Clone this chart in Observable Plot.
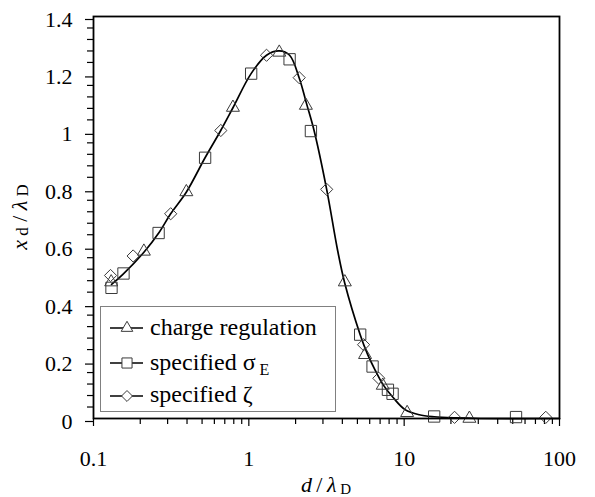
<!DOCTYPE html>
<html><head><meta charset="utf-8">
<script src="https://cdn.jsdelivr.net/npm/d3@7"></script>
<script src="https://cdn.jsdelivr.net/npm/@observablehq/plot@0.6"></script>
<style>body{margin:0;background:#fff}</style>
</head><body><div id="chart"></div>
<script>
// ---- data ----
const seriesNames = ["charge regulation", "specified σ", "specified ζ"];
// markers
const triX = [0.13, 0.211, 0.396, 0.79, 1.57, 2.33, 4.15, 5.6, 7.28, 10.45, 26.3];
const triY = [0.475, 0.582, 0.789, 1.083, 1.275, 1.09, 0.475, 0.222, 0.115, 0.02, 0.0];
const sqX = [0.1306, 0.156, 0.2625, 0.523, 1.035, 1.83, 2.51, 5.21, 6.26, 7.86, 8.42, 15.6, 52.5];
const sqY = [0.455, 0.505, 0.646, 0.908, 1.201, 1.251, 1.001, 0.292, 0.181, 0.100, 0.086, 0.007, 0.005];
const diX = [0.1287, 0.18, 0.314, 0.66, 1.30, 2.11, 3.17, 5.48, 6.87, 21.1, 81.6];
const diY = [0.498, 0.566, 0.713, 1.003, 1.265, 1.187, 0.798, 0.257, 0.140, 0.004, 0.004];
// solid curve
const curveX = [0.1307, 0.1546, 0.2111, 0.2636, 0.3139, 0.3965, 0.5226, 0.6595, 0.7918, 1.034, 1.30, 1.57,
                1.83, 2.11, 2.36, 2.63, 3.17, 3.73, 4.15, 5.21, 5.79, 6.43, 7.31, 8.49, 10.13, 12.5, 15.6, 21.5, 31, 100];
const curveY = [0.467, 0.502, 0.579, 0.647, 0.713, 0.789, 0.908, 1.003, 1.083, 1.201, 1.265, 1.280,
                1.265, 1.186, 1.094, 1.003, 0.798, 0.585, 0.470, 0.292, 0.226, 0.174, 0.118, 0.073, 0.031, 0.013, 0.006, 0.002, 0, 0];
// axes
const xMajor = [0.1, 1, 10, 100];
const xMinor = [0.2,0.3,0.4,0.5,0.6,0.7,0.8,0.9, 2,3,4,5,6,7,8,9, 20,30,40,50,60,70,80,90];
const yMajor = [0, 0.2, 0.4, 0.6, 0.8, 1, 1.2, 1.4];
const yMinor = [0.04,0.08,0.12,0.16,0.24,0.28,0.32,0.36,0.44,0.48,0.52,0.56,0.64,0.68,0.72,0.76,
                0.84,0.88,0.92,0.96,1.04,1.08,1.12,1.16,1.24,1.28,1.32,1.36];

// ---- layout ----
const W = 595, H = 497, ML = 93, MR = 36, MT = 16, MB = 79;
const FONT = "'Liberation Serif','Times New Roman',Times,serif";
const rows = (xs, ys) => xs.map((x, i) => ({x, y: ys[i]}));
const tri = rows(triX, triY), sq = rows(sqX, sqY), di = rows(diX, diY), curve = rows(curveX, curveY);
const R = {triangle2: 6.2, square2: 7.2, diamond2: 5.5};
const dotOpt = s => ({x: "x", y: "y", symbol: s, r: R[s], stroke: "#3a3a3a", fill: "none", strokeWidth: 1});

const plot = Plot.plot({
  width: W, height: H,
  marginLeft: ML, marginRight: MR, marginTop: MT, marginBottom: MB,
  style: {fontFamily: FONT, fontSize: "22px", color: "#000", background: "#fff", overflow: "visible"},
  x: {type: "log", domain: [0.1, 100]},
  y: {domain: [0, 1.4]},
  marks: [
    Plot.axisY(yMinor, {tickSize: 6, tickFormat: () => "", label: null, strokeWidth: 1.2}),
    Plot.axisY(yMajor, {tickSize: 8, tickPadding: 13, tickFormat: d => String(d), dy: 3, label: null, strokeWidth: 1.2, fontFamily: FONT}),
    Plot.axisX(xMinor, {tickSize: 6, tickFormat: () => "", label: null, strokeWidth: 1.2}),
    Plot.axisX(xMajor, {tickSize: 8, tickPadding: 24, tickFormat: d => String(d), label: null, strokeWidth: 1.2, fontFamily: FONT}),
    Plot.line(curve, {x: "x", y: "y", curve: "catmull-rom", stroke: "#000", strokeWidth: 1.7}),
    Plot.dot(tri, dotOpt("triangle2")),
    Plot.dot(sq, dotOpt("square2")),
    Plot.dot(di, dotOpt("diamond2")),
    Plot.frame({stroke: "#000", strokeWidth: 1.8})
  ]
});
document.getElementById("chart").appendChild(plot);

// ---- axis titles with italics and subscripts ----
const svg = d3.select(plot);
const cx = (ML + W - MR) / 2, cy = (MT + H - MB) / 2;
const xl = svg.append("text").attr("x", cx).attr("y", 492).attr("text-anchor", "middle")
  .attr("font-family", FONT).attr("font-size", 22).attr("fill", "#000");
xl.append("tspan").attr("font-style", "italic").text("d");
xl.append("tspan").text("\u2009/\u2009");
xl.append("tspan").attr("font-style", "italic").text("λ");
xl.append("tspan").attr("font-size", 15).attr("dy", 2).text(" D");

const yl = svg.append("text").attr("transform", `translate(27,${cy}) rotate(-90)`).attr("text-anchor", "middle")
  .attr("font-family", FONT).attr("font-size", 22).attr("fill", "#000");
yl.append("tspan").attr("font-style", "italic").text("x");
yl.append("tspan").attr("font-size", 17).attr("dy", 1).text(" d");
yl.append("tspan").attr("dy", -1).text(" / ");
yl.append("tspan").attr("font-style", "italic").text("λ");
yl.append("tspan").attr("font-size", 17).attr("dy", 1).text(" D");

// ---- legend ----
const lg = svg.append("g").attr("font-family", FONT).attr("font-size", 24).attr("fill", "#000")
  .attr("text-anchor", "start");
lg.append("rect").attr("x", 100.5).attr("y", 306.5).attr("width", 235).attr("height", 105)
  .attr("fill", "#fff").attr("stroke", "#808080").attr("stroke-width", 1);
const syms = [["triangle2", d3.symbolTriangle2], ["square2", d3.symbolSquare2], ["diamond2", d3.symbolDiamond2]];
const symY = [328, 363, 396], baseY = [335, 370, 402];
syms.forEach(([k, s], i) => {
  lg.append("line").attr("x1", 110).attr("x2", 143).attr("y1", symY[i]).attr("y2", symY[i])
    .attr("stroke", "#000").attr("stroke-width", 1.6);
  lg.append("path").attr("d", d3.symbol(s, Math.PI * R[k] * R[k] * 0.8)())
    .attr("transform", `translate(127,${symY[i]})`).attr("fill", "#fff").attr("stroke", "#3a3a3a");
  const t = lg.append("text").attr("x", 150).attr("y", baseY[i]).attr("fill", "#000").text(seriesNames[i]);
  if (i === 1) t.append("tspan").attr("font-size", 16).attr("dy", 5).attr("fill", "#000").text(" E");
});
</script>
</body></html>
